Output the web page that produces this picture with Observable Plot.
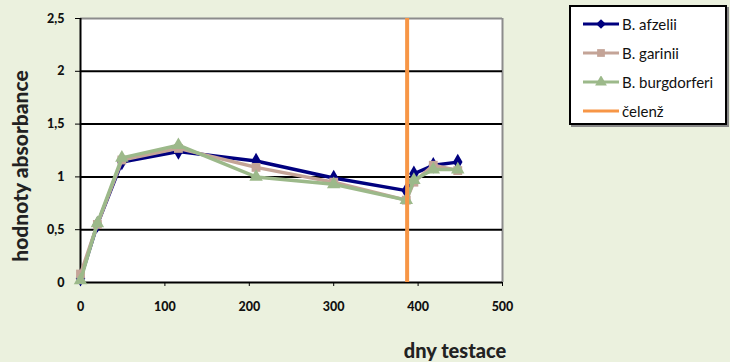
<!DOCTYPE html>
<html>
<head>
<meta charset="utf-8">
<script src="https://cdn.jsdelivr.net/npm/d3@7"></script>
<script src="https://cdn.jsdelivr.net/npm/@observablehq/plot@0.6"></script>
<style>
  html, body { margin: 0; padding: 0; background: #EBF1DE; }
  #wrap { position: relative; width: 730px; height: 362px; font-family: Lato, "Open Sans", sans-serif; }
  #chart svg { display: block; }
  #chart svg g[aria-label="y-axis tick label"] text,
  #chart svg g[aria-label="x-axis tick label"] text { font-weight: 900; font-size: 12.5px; fill: #111; }
  .ytitle { position: absolute; left: 19px; top: 166px; transform: translate(-50%, -50%) rotate(-90deg);
            font-weight: 900; font-size: 21px; color: #222; white-space: nowrap; }
  .xtitle { position: absolute; left: 455px; top: 350px; transform: translate(-50%, -50%);
            font-weight: 900; font-size: 20px; color: #222; white-space: nowrap; }
  #legend { position: absolute; left: 569px; top: 5px; width: 158px; height: 120px;
            border: 2px solid #000; box-shadow: 2px 2px 0 #888; background: #fff; box-sizing: border-box;
            padding-top: 2px; }
  .item { display: flex; align-items: center; height: 29px; font-size: 15px; color: #111; margin-left: 10px; }
  .item svg { margin-right: 1px; }
</style>
</head>
<body>
<div id="wrap">
  <div id="chart"></div>
  <div class="ytitle">hodnoty absorbance</div>
  <div class="xtitle">dny testace</div>
  <div id="legend"></div>
</div>
<script>
// Days of testing and measured absorbance for each Borrelia species
const days = [0, 20, 49, 116, 208, 300, 386, 395, 418, 447];
const afzelii = [0.04, 0.55, 1.14, 1.24, 1.15, 0.99, 0.87, 1.03, 1.11, 1.14];
const garinii = [0.08, 0.55, 1.16, 1.27, 1.09, 0.95, 0.78, 0.95, 1.11, 1.06];
const burgdorferi = [0.02, 0.56, 1.18, 1.30, 1.00, 0.93, 0.78, 0.97, 1.07, 1.07];
const challengeDay = [387];

const seriesNames = ["B. afzelii", "B. garinii", "B. burgdorferi"];
const seriesValues = [afzelii, garinii, burgdorferi];
const seriesColors = ["#00007F", "#C4A497", "#9CB98A"];
const seriesSymbols = ["diamond", "square", "triangle"];
const challengeLabel = "čelenž";
const challengeColor = "#F79646";

const xTicks = [0, 100, 200, 300, 400, 500];
const yTicks = [0, 0.5, 1, 1.5, 2, 2.5];

const rows = seriesNames.map((name, i) =>
  days.map((d, j) => ({series: name, day: d, value: seriesValues[i][j]})));

const comma = d => String(d).replace(".", ",");

const marks = [
  Plot.frame({fill: "white", stroke: null}),
  Plot.ruleY([2.5], {stroke: "#8C8C8C", strokeWidth: 2}),
  Plot.ruleX([500], {stroke: "#8C8C8C", strokeWidth: 2}),
  Plot.ruleY(yTicks.slice(1, -1), {stroke: "#000", strokeWidth: 2}),
  Plot.ruleY([0], {stroke: "#000", strokeWidth: 2}),
  Plot.ruleX([0], {stroke: "#000", strokeWidth: 2}),
  Plot.axisY({ticks: yTicks, tickSize: 5, tickPadding: 11, tickFormat: comma, label: null, stroke: "#000"}),
  Plot.axisX({ticks: xTicks, tickSize: 4, tickPadding: 16, label: null, stroke: "#000"})
];
rows.forEach((r, i) => {
  marks.push(Plot.line(r, {x: "day", y: "value", stroke: seriesColors[i], strokeWidth: 3.5}));
  marks.push(Plot.dot(r, {x: "day", y: "value", fill: seriesColors[i], symbol: seriesSymbols[i], r: 5}));
});
marks.push(Plot.ruleX(challengeDay, {y1: 0, y2: 2.5, stroke: challengeColor, strokeWidth: 4}));

const chart = Plot.plot({
  width: 730,
  height: 362,
  marginLeft: 80,
  marginRight: 228,
  marginTop: 18,
  marginBottom: 80,
  style: {background: "transparent", fontFamily: "Lato, 'Open Sans', sans-serif", color: "#111"},
  x: {domain: [0, 500]},
  y: {domain: [0, 2.5]},
  marks
});
document.getElementById("chart").appendChild(chart);

// Legend
const legend = d3.select("#legend");
const entries = seriesNames.map((n, i) => ({name: n, color: seriesColors[i], symbol: seriesSymbols[i]}))
  .concat([{name: challengeLabel, color: challengeColor, symbol: null}]);
const symbolMap = {diamond: d3.symbolDiamond2, square: d3.symbolSquare, triangle: d3.symbolTriangle};
entries.forEach(e => {
  const item = legend.append("div").attr("class", "item");
  const s = item.append("svg").attr("width", 40).attr("height", 12);
  s.append("line").attr("x1", 2).attr("x2", 38).attr("y1", 6).attr("y2", 6)
    .attr("stroke", e.color).attr("stroke-width", 3);
  if (e.symbol) {
    s.append("path").attr("transform", "translate(20,6)")
      .attr("d", d3.symbol(symbolMap[e.symbol], 60)()).attr("fill", e.color);
  }
  item.append("span").text(e.name);
});
</script>
</body>
</html>
